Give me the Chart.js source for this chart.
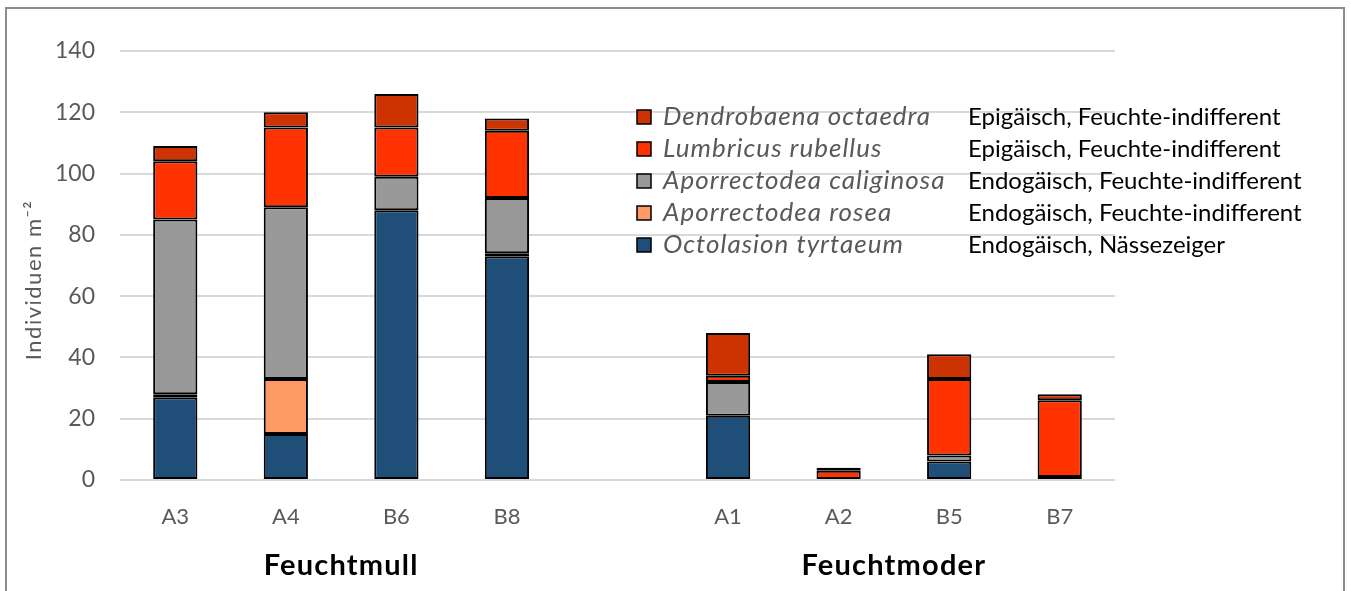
<!DOCTYPE html>
<html>
<head>
<meta charset="utf-8">
<script src="https://cdn.jsdelivr.net/npm/chart.js@4"></script>
<style>
html,body{margin:0;padding:0;background:#fff;}
#wrap{position:absolute;left:0;top:0;width:1351px;height:591px;}
</style>
</head>
<body>
<div id="wrap"><canvas id="c"></canvas></div>
<script>
// ---- data ----
const categories = ['A3','A4','B6','B8','','A1','A2','B5','B7'];
const octolasion  = [27, 15, 88, 73, null, 21, null, 6, 1];
const rosea       = [1, 18, null, 1, null, null, null, null, null];
const caliginosa  = [57, 56, 11, 18, null, 11, null, 2, null];
const lumbricus   = [19, 26, 16, 22, null, 2, 3, 25, 25];
const dendrobaena = [5, 5, 11, 4, null, 14, 1, 8, 2];

const speciesNames = ['Octolasion tyrtaeum','Aporrectodea rosea','Aporrectodea caliginosa','Lumbricus rubellus','Dendrobaena octaedra'];
const speciesDesc  = ['Endogäisch, Nässezeiger','Endogäisch, Feuchte-indifferent','Endogäisch, Feuchte-indifferent','Epigäisch, Feuchte-indifferent','Epigäisch, Feuchte-indifferent'];
const speciesColors = ['#1F4E79','#FF9966','#999999','#FF3300','#CC3300'];

const groupLabels = ['Feuchtmull','Feuchtmoder'];
const groupFirst = [0, 5];
const groupLast  = [3, 8];

const yTitle = 'Individuen m\u207B\u00B2';
const yTicks = [0,20,40,60,80,100,120,140];

const FONT = "Lato, 'Open Sans', sans-serif";
Chart.defaults.font.family = FONT;

const seriesValues = [octolasion, rosea, caliginosa, lumbricus, dendrobaena];
const datasets = seriesValues.map((vals, i) => ({
  label: speciesNames[i],
  data: vals,
  backgroundColor: speciesColors[i],
  borderColor: '#000000',
  borderWidth: 2,
  borderSkipped: false,
  categoryPercentage: 1.0,
  barPercentage: 0.4
}));

const extras = {
  id: 'extras',
  beforeDraw(chart) {
    const ctx = chart.ctx;
    ctx.save();
    ctx.fillStyle = '#fff';
    ctx.fillRect(0, 0, chart.width, chart.height);
    ctx.strokeStyle = '#8c8c8c';
    ctx.lineWidth = 2;
    ctx.strokeRect(6, 8, 1338, 620);
    ctx.restore();
  },
  afterDraw(chart) {
    const ctx = chart.ctx;
    const xs = chart.scales.x;
    ctx.save();
    // y axis title
    ctx.translate(34, 280);
    ctx.rotate(-Math.PI / 2);
    ctx.fillStyle = '#595959';
    ctx.font = "22px " + FONT;
    ctx.letterSpacing = '1.5px';
    ctx.textAlign = 'center';
    ctx.textBaseline = 'middle';
    ctx.fillText(yTitle, 0, 0);
    ctx.restore();

    // group labels
    ctx.save();
    ctx.fillStyle = '#000';
    ctx.font = "bold 29px " + FONT;
    ctx.letterSpacing = '1.2px';
    ctx.textAlign = 'center';
    ctx.textBaseline = 'middle';
    groupLabels.forEach((g, i) => {
      const cx = (xs.getPixelForValue(groupFirst[i]) + xs.getPixelForValue(groupLast[i])) / 2;
      ctx.fillText(g, cx, 566);
    });
    ctx.restore();

    // legend
    ctx.save();
    const n = speciesNames.length;
    for (let r = 0; r < n; r++) {
      const i = n - 1 - r;
      const cy = 117 + r * 32;
      ctx.fillStyle = speciesColors[i];
      ctx.fillRect(637, cy - 7, 14, 14);
      ctx.strokeStyle = '#000';
      ctx.lineWidth = 1.5;
      ctx.strokeRect(637, cy - 7, 14, 14);
      ctx.textBaseline = 'middle';
      ctx.textAlign = 'left';
      ctx.fillStyle = '#595959';
      ctx.font = "italic 26px " + FONT;
      ctx.letterSpacing = '1px';
      ctx.fillText(speciesNames[i], 663, cy);
      ctx.letterSpacing = '0px';
      ctx.fillStyle = '#000';
      ctx.font = "24px " + FONT;
      ctx.fillText(speciesDesc[i], 968, cy);
    }
    ctx.restore();
  }
};

new Chart(document.getElementById('c'), {
  type: 'bar',
  data: { labels: categories, datasets },
  options: {
    responsive: true,
    maintainAspectRatio: false,
    animation: false,
    layout: { padding: { left: 0, right: 236, top: 51, bottom: 0 } },
    plugins: { legend: { display: false }, tooltip: { enabled: false } },
    scales: {
      x: {
        stacked: true,
        grid: { display: false, drawTicks: false },
        border: { display: false },
        ticks: { color: '#595959', font: { size: 22 }, padding: 24 },
        afterFit: s => { s.height = 111; }
      },
      y: {
        stacked: true,
        min: 0, max: 140,
        grid: { color: '#d9d9d9', lineWidth: 2, drawTicks: false },
        border: { display: false },
        afterBuildTicks: s => { s.ticks = yTicks.map(v => ({ value: v })); },
        ticks: { color: '#595959', font: { size: 23 }, padding: 25 },
        afterFit: s => { s.width = 120; }
      }
    }
  },
  plugins: [extras]
});
</script>
</body>
</html>
